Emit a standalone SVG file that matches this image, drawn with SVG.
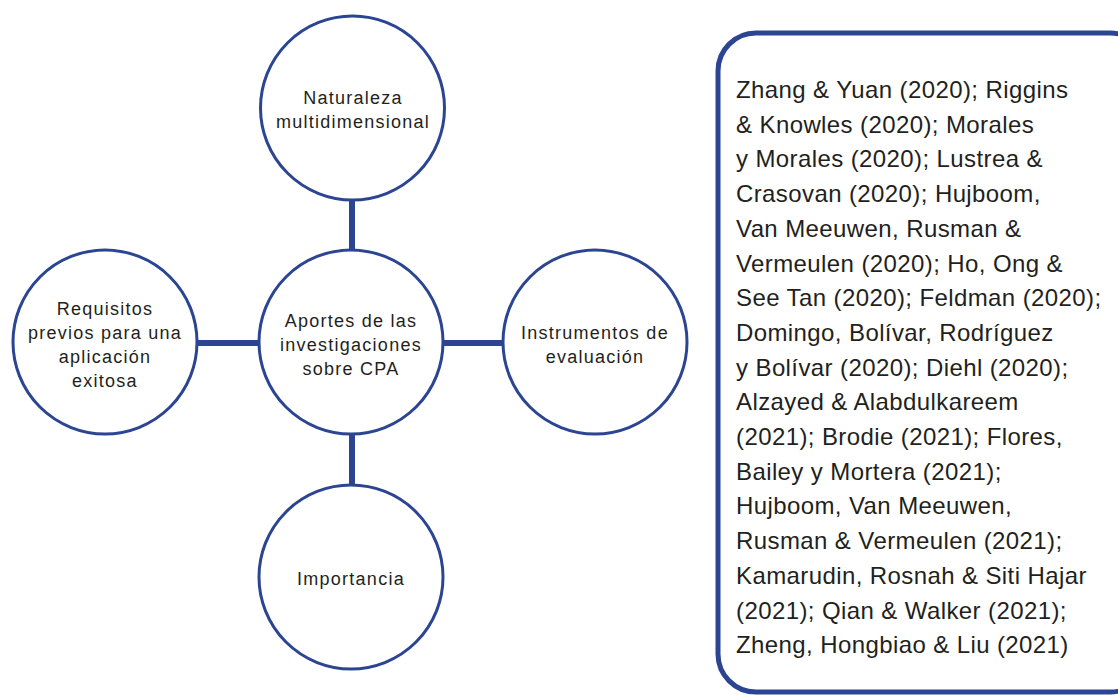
<svg xmlns="http://www.w3.org/2000/svg" width="1118" height="695" viewBox="0 0 1118 695">
<style>
.node{fill:#fff;stroke:#2b4592;stroke-width:3}
.conn{stroke:#2b4592;stroke-width:6;fill:none}
.lbl{font-family:"Liberation Sans",Arial,sans-serif;font-size:18px;fill:#231f20;text-anchor:middle;letter-spacing:1.25px}
.ref{font-family:"Liberation Sans",Arial,sans-serif;font-size:24px;fill:#231f20;letter-spacing:0.4px}
.box{fill:#fff;stroke:#2b4592;stroke-width:5}
</style>
<rect width="1118" height="695" fill="#fff"/>
<g id="connectors">
<line class="conn" x1="352" y1="200" x2="352" y2="250"/>
<line class="conn" x1="352" y1="434" x2="352" y2="485"/>
<line class="conn" x1="197" y1="343" x2="260" y2="343"/>
<line class="conn" x1="443" y1="343" x2="503" y2="343"/>
</g>
<g id="node-top">
<circle class="node" cx="352.5" cy="108" r="92"/>
<text class="lbl" x="353" y="104">Naturaleza</text>
<text class="lbl" x="353" y="128">multidimensional</text>
</g>
<g id="node-center">
<circle class="node" cx="351" cy="342" r="92"/>
<text class="lbl" x="351" y="327">Aportes de las</text>
<text class="lbl" x="351" y="351">investigaciones</text>
<text class="lbl" x="351" y="375">sobre CPA</text>
</g>
<g id="node-left">
<circle class="node" cx="105" cy="342" r="92"/>
<text class="lbl" x="105" y="315">Requisitos</text>
<text class="lbl" x="105" y="339">previos para una</text>
<text class="lbl" x="105" y="363">aplicación</text>
<text class="lbl" x="105" y="387">exitosa</text>
</g>
<g id="node-right">
<circle class="node" cx="595" cy="342" r="92"/>
<text class="lbl" x="595" y="339">Instrumentos de</text>
<text class="lbl" x="595" y="363">evaluación</text>
</g>
<g id="node-bottom">
<circle class="node" cx="351" cy="577" r="92"/>
<text class="lbl" x="351" y="585">Importancia</text>
</g>
<g id="references">
<rect class="box" x="718" y="33" width="430" height="659" rx="38"/>
<text class="ref" x="736" y="98">Zhang &amp; Yuan (2020); Riggins</text>
<text class="ref" x="736" y="132.7">&amp; Knowles (2020); Morales</text>
<text class="ref" x="736" y="167.4">y Morales (2020); Lustrea &amp;</text>
<text class="ref" x="736" y="202.1">Crasovan (2020); Hujboom,</text>
<text class="ref" x="736" y="236.8">Van Meeuwen, Rusman &amp;</text>
<text class="ref" x="736" y="271.5">Vermeulen (2020); Ho, Ong &amp;</text>
<text class="ref" x="736" y="306.2">See Tan (2020); Feldman (2020);</text>
<text class="ref" x="736" y="340.9">Domingo, Bolívar, Rodríguez</text>
<text class="ref" x="736" y="375.6">y Bolívar (2020); Diehl (2020);</text>
<text class="ref" x="736" y="410.3">Alzayed &amp; Alabdulkareem</text>
<text class="ref" x="736" y="445">(2021); Brodie (2021); Flores,</text>
<text class="ref" x="736" y="479.7">Bailey y Mortera (2021);</text>
<text class="ref" x="736" y="514.4">Hujboom, Van Meeuwen,</text>
<text class="ref" x="736" y="549.1">Rusman &amp; Vermeulen (2021);</text>
<text class="ref" x="736" y="583.8">Kamarudin, Rosnah &amp; Siti Hajar</text>
<text class="ref" x="736" y="618.5">(2021); Qian &amp; Walker (2021);</text>
<text class="ref" x="736" y="653.2">Zheng, Hongbiao &amp; Liu (2021)</text>
</g>
</svg>
